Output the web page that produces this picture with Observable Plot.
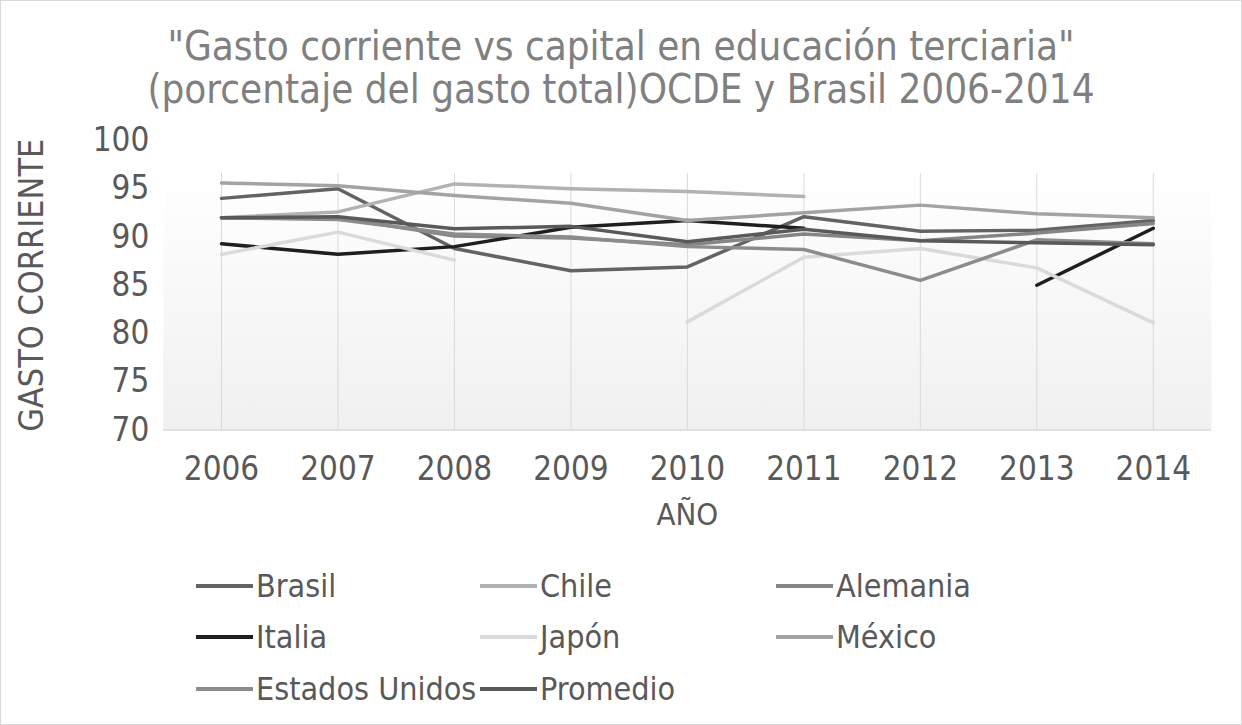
<!DOCTYPE html>
<html><head><meta charset="utf-8">
<script src="https://cdn.jsdelivr.net/npm/d3@7"></script>
<script src="https://cdn.jsdelivr.net/npm/@observablehq/plot@0.6"></script>
<style>
body{margin:0;background:#fff;}
#wrap{position:relative;width:1242px;height:725px;box-sizing:border-box;border:1px solid #d9d9d9;overflow:hidden;font-family:"DejaVu Sans Condensed","DejaVu Sans",sans-serif;}
#title{position:absolute;left:0;top:24px;width:100%;text-align:center;color:#808080;font-size:40px;line-height:43px;}
#chart{position:absolute;left:0;top:119px;}
.leg{position:absolute;height:40px;display:flex;align-items:center;color:#595959;font-size:32px;white-space:nowrap;}
.sw{display:inline-block;width:57px;height:4px;margin-right:3px;}
</style></head>
<body>
<div id="wrap">
  <div id="title">"Gasto corriente vs capital en educación terciaria"<br>(porcentaje del gasto total)OCDE y Brasil 2006-2014</div>
  <div id="chart"></div>
  <div id="legend"></div>
</div>
<script>
const years = [2006, 2007, 2008, 2009, 2010, 2011, 2012, 2013, 2014];
const yTicks = [70, 75, 80, 85, 90, 95, 100];
const yDomain = [70, 100];
const names = ["Brasil", "Chile", "Alemania", "Italia", "Japón", "México", "Estados Unidos", "Promedio"];
const colors = ["#636363", "#b2b2b2", "#858585", "#1f1f1f", "#dadada", "#a3a3a3", "#8c8c8c", "#595959"];

const brasil   = [94.0, 95.0, 88.8, 86.5, 86.9, 92.1, 90.6, 90.7, 91.7];
const chile    = [92.0, 92.6, 95.5, 95.0, 94.7, 94.2, null, null, null];
const alemania = [92.0, 92.0, 90.1, 89.9, 89.2, 90.3, 89.6, 90.4, 91.4];
const italia   = [89.3, 88.2, 89.0, 91.0, 91.7, 90.9, null, 85.0, 90.9];
const japon    = [88.2, 90.5, 87.6, null, 81.2, 87.9, 88.8, 86.8, 81.1];
const mexico   = [95.6, 95.3, 94.3, 93.5, 91.7, 92.5, 93.3, 92.4, 92.0];
const eeuu     = [92.0, 91.8, 90.3, 90.0, 89.0, 88.7, 85.5, 89.7, 89.3];
const promedio = [92.0, 92.1, 90.85, 91.1, 89.5, 90.8, 89.6, 89.4, 89.2];

const series = [brasil, chile, alemania, italia, japon, mexico, eeuu, promedio];
const rows = [];
names.forEach((n, i) => series[i].forEach((v, j) => rows.push({serie: n, year: years[j], value: v})));

const font = '"DejaVu Sans Condensed","DejaVu Sans",sans-serif';
const plot = Plot.plot({
  width: 1242, height: 420,
  marginLeft: 162, marginRight: 30, marginTop: 20, marginBottom: 110,
  style: {fontFamily: font, background: "transparent"},
  x: {domain: [years[0] - 0.5, years[years.length - 1] + 0.5]},
  y: {domain: yDomain},
  color: {domain: names, range: colors},
  marks: [
    Plot.frame({fill: "#f7f7f7", stroke: null, insetTop: 33}),
    Plot.ruleX(years, {stroke: "#d9d9d9", strokeWidth: 1, insetTop: 33}),
    Plot.ruleY([yDomain[0]], {stroke: "#d9d9d9", strokeWidth: 1.5}),
    Plot.axisY({ticks: yTicks, tickSize: 0, tickPadding: 14, fontSize: 33, color: "#595959", label: null}),
    Plot.axisY({ticks: [], tickSize: 0, fontSize: 34, color: "#595959",
      label: "GASTO CORRIENTE", labelAnchor: "center", labelOffset: 145, labelArrow: "none"}),
    Plot.axisX({ticks: years, tickFormat: "d", tickSize: 0, tickPadding: 27, fontSize: 33, color: "#595959", label: null}),
    Plot.axisX({ticks: [], tickSize: 0, fontSize: 31, color: "#595959",
      label: "AÑO", labelAnchor: "center", labelOffset: 95, labelArrow: "none"}),
    Plot.lineY(rows, {x: "year", y: "value", z: "serie", stroke: "serie", strokeWidth: 3.5})
  ]
});
// gradient fill for plot area
const ns = "http://www.w3.org/2000/svg";
const defs = document.createElementNS(ns, "defs");
defs.innerHTML = '<linearGradient id="bggrad" x1="0" y1="0" x2="0" y2="1"><stop offset="0" stop-color="#ffffff"/><stop offset="1" stop-color="#f0f0f0"/></linearGradient>';
plot.insertBefore(defs, plot.firstChild);
const fr = plot.querySelector('[aria-label="frame"]');
if (fr) { const r = fr.tagName === "rect" ? fr : fr.querySelector("rect"); if (r) r.setAttribute("fill", "url(#bggrad)"); }
document.getElementById("chart").appendChild(plot);

// legend
const legPos = [[195, 565], [479, 565], [775, 565], [195, 616], [479, 616], [775, 616], [195, 668], [479, 668]];
const leg = document.getElementById("legend");
names.forEach((n, i) => {
  const d = document.createElement("div");
  d.className = "leg";
  d.style.left = legPos[i][0] + "px";
  d.style.top = legPos[i][1] + "px";
  d.innerHTML = `<span class="sw" style="background:${colors[i]}"></span><span>${n}</span>`;
  leg.appendChild(d);
});
</script>
</body></html>
